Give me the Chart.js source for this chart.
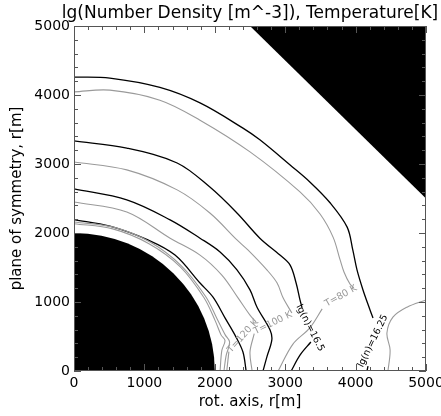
<!DOCTYPE html>
<html>
<head>
<meta charset="utf-8">
<script src="https://cdn.jsdelivr.net/npm/chart.js@4.4.0/dist/chart.umd.min.js"></script>
<style>
  html, body { margin: 0; padding: 0; background: #fff; }
</style>
</head>
<body>
<canvas id="contourChart" width="441" height="416"></canvas>
<script>
// axis ticks
const xTicks = [0, 1000, 2000, 3000, 4000, 5000];
const yTicks = [0, 1000, 2000, 3000, 4000, 5000];

// masked regions: the body (quarter disk) and the corner outside the grid
const obstacleRadius = 2000;
const cornerMask = [[2500, 5000], [5000, 5000], [5000, 2500]];

// density contours lg(n), black; split where the contour label sits
const lgn1625a = [[0,4260],[510,4245],[1220,4110],[1790,3885],[2400,3520],[2640,3350],[3070,2985],[3350,2740],[3640,2435],[3880,2085],[3960,1755],[4020,1465],[4105,1175],[4205,885],[4247,768]];
const lgn1625b = [[4176,72],[4162,0]];
const lgn165a = [[0,3335],[750,3230],[1465,3015],[1930,2665],[2315,2290],[2640,1925],[2925,1680],[3070,1535],[3155,1275],[3210,1030],[3240,915]];
const lgn165b = [[3365,420],[3210,230],[3085,0]];
const lgn1675 = [[0,2640],[750,2480],[1365,2190],[1790,1925],[2075,1725],[2315,1465],[2500,1175],[2600,925],[2785,595],[2810,450],[2740,205],[2685,0]];
const lgn17 = [[0,2195],[510,2100],[1050,1900],[1435,1680],[1790,1275],[1975,1070],[2145,770],[2300,495],[2400,275],[2445,0]];

// temperature contours, grey
const t80a = [[0,4045],[510,4070],[1220,3925],[1790,3635],[2500,3175],[3210,2595],[3495,2275],[3680,1940],[3780,1610],[3835,1435],[3920,1260],[3975,1205]];
const t80b = [[3525,900],[3350,625],[3110,390],[2900,0]];
const t100a = [[0,3030],[750,2915],[1465,2625],[1930,2290],[2315,1900],[2470,1755],[2740,1465],[2885,1275],[2970,1060],[3095,840]];
const t100b = [[2560,540],[2500,275],[2530,0]];
const t120a = [[0,2450],[750,2305],[1365,1925],[1790,1680],[2100,1390],[2330,1060],[2500,810],[2585,710]];
const t120b = [[2200,280],[2170,0]];
const t140 = [[0,2160],[560,2085],[1080,1870],[1525,1525],[1870,1080],[2035,750],[2150,520],[2210,420],[2160,220],[2130,0]];
const t160 = [[0,2135],[550,2060],[1065,1845],[1510,1510],[1845,1065],[2005,730],[2090,520],[2145,440],[2100,300],[2075,0]];
const t60 = [[5000,1030],[4730,925],[4530,780],[4445,550],[4490,305],[4460,0]];

// contour labels: text, anchor (data units), angle in degrees
const contourLabels = [
  { text: 'lg(n)=16.25', at: [4247, 435], angle: -64, color: '#000' },
  { text: 'lg(n)=16.5', at: [3352, 623], angle: 63, color: '#000' },
  { text: 'T=80 K', at: [3790, 1085], angle: -29, color: '#999' },
  { text: 'T=100 K', at: [2827, 695], angle: -26, color: '#999' },
  { text: 'T=120 K', at: [2400, 507], angle: -48, color: '#999' }
];

const blackLines = [lgn1625a, lgn1625b, lgn165a, lgn165b, lgn1675, lgn17];
const greyLines = [t80a, t80b, t100a, t100b, t120a, t120b, t140, t160, t60];

function toPoints(arr) {
  return arr.map(p => ({ x: p[0], y: p[1] }));
}

const datasets = [];
greyLines.forEach(line => datasets.push({
  data: toPoints(line), showLine: true, borderColor: '#9a9a9a', borderWidth: 1.1,
  pointRadius: 0, tension: 0.35, fill: false
}));
blackLines.forEach(line => datasets.push({
  data: toPoints(line), showLine: true, borderColor: '#000', borderWidth: 1.3,
  pointRadius: 0, tension: 0.35, fill: false
}));

const FONT = 'DejaVu Sans';

// black masks drawn under the contours
const maskPlugin = {
  id: 'masks',
  beforeDatasetsDraw(chart) {
    const { ctx, chartArea: a, scales: { x, y } } = chart;
    ctx.save();
    ctx.beginPath();
    ctx.rect(a.left, a.top, a.width, a.height);
    ctx.clip();
    ctx.fillStyle = '#000';
    const x0 = x.getPixelForValue(0), y0 = y.getPixelForValue(0);
    const rx = x.getPixelForValue(obstacleRadius) - x0;
    const ry = y0 - y.getPixelForValue(obstacleRadius);
    ctx.beginPath();
    ctx.moveTo(x0, y0);
    ctx.ellipse(x0, y0, rx, ry, 0, -Math.PI / 2, 0);
    ctx.closePath();
    ctx.fill();
    ctx.beginPath();
    cornerMask.forEach((p, i) => {
      const px = x.getPixelForValue(p[0]), py = y.getPixelForValue(p[1]);
      if (i) ctx.lineTo(px, py); else ctx.moveTo(px, py);
    });
    ctx.closePath();
    ctx.fill();
    ctx.restore();
  }
};

// IDL style box: frame, inward ticks on all sides, title, contour labels
const boxPlugin = {
  id: 'box',
  afterDraw(chart) {
    const { ctx, chartArea: a, scales: { x, y } } = chart;
    ctx.save();
    ctx.strokeStyle = '#555';
    ctx.lineWidth = 1;
    ctx.strokeRect(a.left + 0.5, a.top + 0.5, a.width - 1, a.height - 1);
    ctx.beginPath();
    for (let v = 0; v <= 5000; v += 200) {
      const len = v % 1000 === 0 ? 7 : 4;
      const px = Math.round(x.getPixelForValue(v)) + 0.5;
      ctx.moveTo(px, a.bottom); ctx.lineTo(px, a.bottom - len);
      ctx.moveTo(px, a.top); ctx.lineTo(px, a.top + len);
      const py = Math.round(y.getPixelForValue(v)) + 0.5;
      ctx.moveTo(a.left, py); ctx.lineTo(a.left + len, py);
      ctx.moveTo(a.right, py); ctx.lineTo(a.right - len, py);
    }
    ctx.stroke();

    contourLabels.forEach(l => {
      ctx.save();
      ctx.translate(x.getPixelForValue(l.at[0]), y.getPixelForValue(l.at[1]));
      ctx.rotate(l.angle * Math.PI / 180);
      ctx.font = '9.5px ' + FONT;
      ctx.fillStyle = l.color;
      ctx.textAlign = 'center';
      ctx.textBaseline = 'middle';
      ctx.fillText(l.text, 0, 0);
      ctx.restore();
    });

    ctx.fillStyle = '#000';
    ctx.font = '17px ' + FONT;
    ctx.textAlign = 'center';
    ctx.textBaseline = 'alphabetic';
    ctx.fillText('lg(Number Density [m^-3]), Temperature[K]', (a.left + a.right) / 2, 17.5);
    ctx.restore();
  }
};

new Chart(document.getElementById('contourChart'), {
  type: 'scatter',
  data: { datasets: datasets },
  options: {
    responsive: false,
    animation: false,
    layout: { padding: { top: 26, right: 15, left: 0, bottom: 0 } },
    plugins: { legend: { display: false }, tooltip: { enabled: false } },
    scales: {
      x: {
        type: 'linear', min: 0, max: 5000,
        afterBuildTicks: s => { s.ticks = xTicks.map(v => ({ value: v })); },
        afterFit: s => { s.height = 45; s.paddingLeft = 0; s.paddingRight = 0; },
        grid: { display: false, drawTicks: false },
        border: { display: false },
        ticks: { color: '#000', padding: 4, maxRotation: 0, font: { family: FONT, size: 14 }, callback: v => String(v) },
        title: { display: true, text: 'rot. axis, r[m]', color: '#000', font: { family: FONT, size: 15 }, padding: { top: 0, bottom: 5 } }
      },
      y: {
        type: 'linear', min: 0, max: 5000,
        afterBuildTicks: s => { s.ticks = yTicks.map(v => ({ value: v })); },
        afterFit: s => { s.width = 74; s.paddingTop = 0; s.paddingBottom = 0; },
        grid: { display: false, drawTicks: false },
        border: { display: false },
        ticks: { color: '#000', padding: 4, font: { family: FONT, size: 14 }, callback: v => String(v) },
        title: { display: true, text: 'plane of symmetry, r[m]', color: '#000', font: { family: FONT, size: 15 }, padding: { top: 8, bottom: 0 } }
      }
    }
  },
  plugins: [maskPlugin, boxPlugin]
});
</script>
</body>
</html>
